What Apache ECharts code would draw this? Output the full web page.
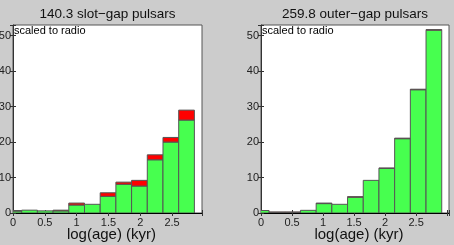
<!DOCTYPE html>
<html><head><meta charset="utf-8">
<script src="https://cdn.jsdelivr.net/npm/echarts@6/dist/echarts.min.js"></script>
<style>html,body{margin:0;padding:0;background:#cccccc;}#c{width:454px;height:245px;}</style>
</head><body><div id="c"></div>
<script>
// ---- data ----
const titles = ['140.3 slot\u2212gap pulsars', '259.8 outer\u2212gap pulsars'];
const xLabel = 'log(age) (kyr)';
const note = 'scaled to radio';
const xTickLabels = ['0', '0.5', '1', '1.5', '2', '2.5'];
const yTickLabels = ['0', '10', '20', '30', '40', '50'];
const leftBinStart = -0.11, leftBinWidth = 0.2467, leftXMax = 2.97;
const rightBinStart = -0.123, rightBinWidth = 0.253, rightXMax = 3.03;
const leftGreen = [0.55, 0.8, 0.6, 0.6, 2.25, 2.45, 4.7, 8.1, 7.6, 15.0, 20.0, 26.2];
const leftRed   = [0.15, 0, 0, 0.2, 0.55, 0, 1.0, 0.6, 1.6, 1.4, 1.3, 2.8];
const rightGreen = [0.7, 0.15, 0.15, 0.75, 2.65, 2.45, 4.45, 9.2, 12.55, 20.95, 34.75, 51.55];
const rightRed   = [0, 0.15, 0.15, 0, 0.15, 0, 0.15, 0, 0.15, 0.15, 0.15, 0.15];
const yMax = 53, yInterval = 10, xInterval = 0.5;

const chart = echarts.init(document.getElementById('c'), null, {renderer: 'canvas'});
const FONT = 'Liberation Sans';
const GREEN = '#47ff4f', RED = '#ff0000', EDGE = '#555555';

function binData(start, width, green, red) {
  return green.map((g, i) => [start + i * width, start + (i + 1) * width, g, red[i]]);
}
function renderItem(params, api) {
  const x0 = api.value(0), x1 = api.value(1), g = api.value(2), r = api.value(3);
  const pBL = api.coord([x0, 0]), pTR = api.coord([x1, g]);
  const children = [{
    type: 'rect',
    shape: {x: pBL[0], y: pTR[1], width: pTR[0] - pBL[0], height: pBL[1] - pTR[1]},
    style: {fill: GREEN, stroke: EDGE, lineWidth: 1}
  }];
  if (r > 0) {
    const pT2 = api.coord([x1, g + r]);
    children.push({
      type: 'rect',
      shape: {x: pBL[0], y: pT2[1], width: pTR[0] - pBL[0], height: pTR[1] - pT2[1]},
      style: {fill: RED, stroke: EDGE, lineWidth: 1}
    });
  }
  return {type: 'group', children};
}
function labelFor(list, interval) {
  return v => {
    const i = Math.round(v / interval);
    return (Math.abs(v / interval - i) < 1e-6 && i >= 0 && i < list.length) ? list[i] : '';
  };
}
const grids = [
  {left: 13, top: 25, width: 189, height: 188},
  {left: 261, top: 25, width: 188, height: 188}
];
const xMaxes = [leftXMax, rightXMax];
const xAxes = [], yAxes = [], series = [], graphics = [];
grids.forEach((gr, k) => {
  gr.show = true; gr.backgroundColor = '#ffffff'; gr.borderColor = '#555'; gr.borderWidth = 1;
  gr.containLabel = false; gr.outerBoundsMode = 'none';
  const common = {min: 0, max: xMaxes[k], interval: xInterval, gridIndex: k, type: 'value',
    splitLine: {show: false}, axisTick: {inside: true, length: 3, lineStyle: {color: '#333'}}};
  xAxes.push(Object.assign({}, common, {position: 'bottom',
    axisLine: {show: true, lineStyle: {color: '#000', width: 1}},
    axisLabel: {color: '#222', fontFamily: FONT, fontSize: 11, margin: 4,
      formatter: labelFor(xTickLabels, xInterval)},
    name: xLabel, nameLocation: 'middle', nameGap: 22, nameMoveOverlap: false,
    nameTextStyle: {color: '#111', fontFamily: FONT, fontSize: 15, verticalAlign: 'middle',
      padding: [0, 0, 0, 8]}}));
  xAxes.push(Object.assign({}, common, {position: 'top',
    axisLine: {show: false}, axisLabel: {show: false}}));
  const ycommon = {min: 0, max: yMax, interval: yInterval, gridIndex: k, type: 'value',
    splitLine: {show: false}, axisTick: {inside: true, length: 3, lineStyle: {color: '#333'}}};
  yAxes.push(Object.assign({}, ycommon, {position: 'left',
    axisLine: {show: true, lineStyle: {color: '#333', width: 1}},
    axisLabel: {color: '#222', fontFamily: FONT, fontSize: 11, margin: 2,
      formatter: labelFor(yTickLabels, yInterval)}}));
  yAxes.push(Object.assign({}, ycommon, {position: 'right',
    axisLine: {show: false}, axisLabel: {show: false}}));
  const d = k === 0 ? binData(leftBinStart, leftBinWidth, leftGreen, leftRed)
                    : binData(rightBinStart, rightBinWidth, rightGreen, rightRed);
  series.push({type: 'custom', renderItem, data: d, xAxisIndex: 2 * k, yAxisIndex: 2 * k, clip: true,
    encode: {x: [0, 1], y: [2]}, silent: true, animation: false});
  graphics.push({type: 'text', x: gr.left + gr.width / 2, y: 7,
    style: {text: titles[k], fill: '#111', font: '13.5px ' + FONT, textAlign: 'center'}});
  graphics.push({type: 'text', x: gr.left + 1, y: gr.top,
    style: {text: note, fill: '#000', font: '11px ' + FONT}});
});
chart.setOption({
  backgroundColor: '#cccccc',
  animation: false,
  grid: grids, xAxis: xAxes, yAxis: yAxes, series,
  graphic: graphics
});
</script></body></html>
